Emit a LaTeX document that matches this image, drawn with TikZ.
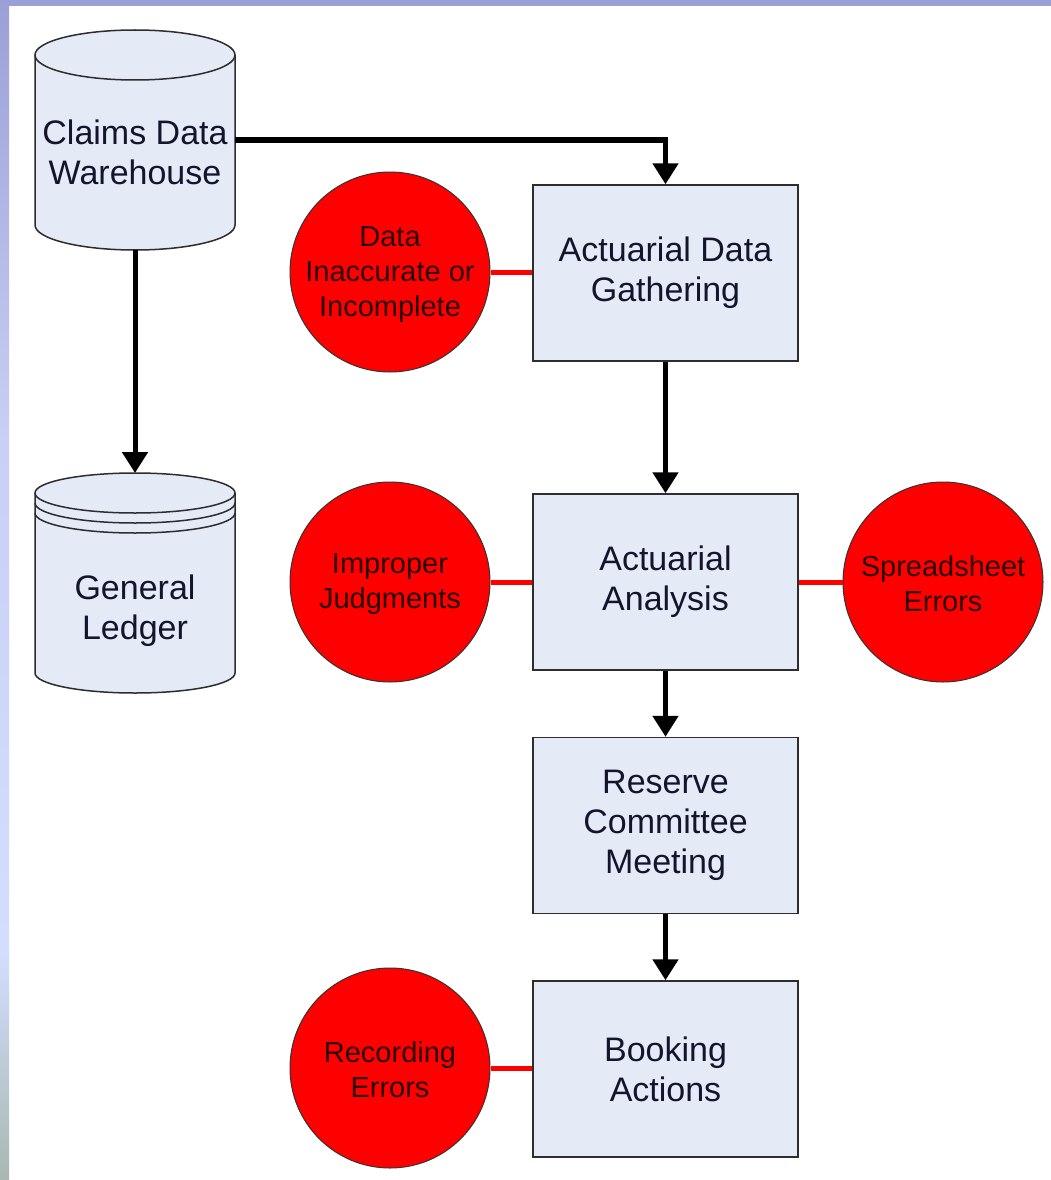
\documentclass[tikz,border=0pt]{standalone}
\usepackage{fontspec}
\setmainfont{Liberation Sans}
\usetikzlibrary{arrows.meta}
\definecolor{boxfill}{RGB}{228,235,246}
\definecolor{boxline}{RGB}{45,45,45}
\definecolor{txtdark}{RGB}{20,20,45}
\definecolor{risktxt}{RGB}{40,0,0}
\definecolor{stripA}{RGB}{154,160,214}
\definecolor{stripB}{RGB}{200,208,245}
\definecolor{stripC}{RGB}{210,222,255}
\definecolor{stripD}{RGB}{168,184,176}
\begin{document}
\begin{tikzpicture}[x=1pt,y=-1pt,
  procbox/.style={draw=boxline, line width=1.5pt, fill=boxfill, minimum width=265pt, minimum height=176pt, align=center, text=txtdark, font=\fontsize{34}{40}\selectfont, inner sep=0pt},
  cyltext/.style={align=center, text=txtdark, font=\fontsize{34}{40}\selectfont, inner sep=0pt},
  risk/.style={circle, draw=black!80, line width=1pt, fill=red, minimum size=200pt, align=center, text=risktxt, font=\fontsize{29}{35}\selectfont, inner sep=0pt},
  risklabel/.style={align=center, text=risktxt, font=\fontsize{29}{35}\selectfont, inner sep=0pt},
  cylline/.style={draw=boxline, line width=1.5pt},
  flow/.style={line width=5pt, -{Triangle[width=25pt,length=21pt]}},
  risklink/.style={red, line width=5pt}
]
\useasboundingbox (0,0) rectangle (1051,1180);
% background frame
\fill[white] (0,0) rectangle (1051,1180);
\fill[top color=stripA, bottom color=stripB] (0,0) rectangle (9,440);
\fill[top color=stripB, bottom color=stripC] (0,440) rectangle (9,950);
\fill[top color=stripC, bottom color=stripD] (0,950) rectangle (9,1180);
\fill[stripA] (0,0) rectangle (1051,6);

% Claims Data Warehouse cylinder
\fill[boxfill] (35,55) -- (35,225) arc[start angle=180,end angle=360,x radius=100pt,y radius=25pt] -- (235,55) arc[start angle=0,end angle=180,x radius=100pt,y radius=25pt] -- cycle;
\draw[cylline] (35,55) -- (35,225) arc[start angle=180,end angle=360,x radius=100pt,y radius=25pt] -- (235,55);
\draw[cylline] (135,55) ellipse [x radius=100pt,y radius=25pt];
\node[cyltext] (cdw) at (135,152) {Claims Data\\Warehouse};
\coordinate (cdwR) at (235,140);
\coordinate (cdwB) at (135,250);

% General Ledger cylinder
\fill[boxfill] (35,493) -- (35,673) arc[start angle=180,end angle=360,x radius=100pt,y radius=20pt] -- (235,493) arc[start angle=0,end angle=180,x radius=100pt,y radius=20pt] -- cycle;
\draw[cylline] (35,493) -- (35,673) arc[start angle=180,end angle=360,x radius=100pt,y radius=20pt] -- (235,493);
\draw[cylline] (135,493) ellipse [x radius=100pt,y radius=20pt];
\draw[cylline] (35,503) arc[start angle=180,end angle=360,x radius=100pt,y radius=20pt];
\draw[cylline] (35,513) arc[start angle=180,end angle=360,x radius=100pt,y radius=20pt];
\node[cyltext] (gl) at (135,611) {General\\Ledger};
\coordinate (glT) at (135,473);

% process boxes
\node[procbox] (adg) at (665.5,273) {Actuarial Data\\Gathering};
\node[procbox] (aa)  at (665.5,582) {Actuarial\\Analysis};
\node[procbox] (rcm) at (665.5,825.5) {Reserve\\Committee\\Meeting};
\node[procbox] (ba)  at (665.5,1069) {Booking\\Actions};

% risk circles
\node[risk] (r1) at (390,272) {};
\node[risk] (r2) at (390,582) {};
\node[risk] (r3) at (943,582) {};
\node[risk] (r4) at (390,1068) {};
\node[risklabel] (t1) at (390,275) {Data\\Inaccurate or\\Incomplete};
\node[risklabel] (t2) at (390,584) {Improper\\Judgments};
\node[risklabel] (t3) at (943,584) {Spreadsheet\\Errors};
\node[risklabel] (t4) at (390,1070) {Recording\\Errors};

% risk links
\draw[risklink] (r1) -- (r1 -| adg.west);
\draw[risklink] (r2) -- (r2 -| aa.west);
\draw[risklink] (aa.east |- r3) -- (r3);
\draw[risklink] (r4) -- (r4 -| ba.west);

% flow arrows
\draw[flow] (cdwR) -| (adg.north);
\draw[flow] (cdwB) -- (glT);
\draw[flow] (adg) -- (aa);
\draw[flow] (aa) -- (rcm);
\draw[flow] (rcm) -- (ba);
\end{tikzpicture}
\end{document}
